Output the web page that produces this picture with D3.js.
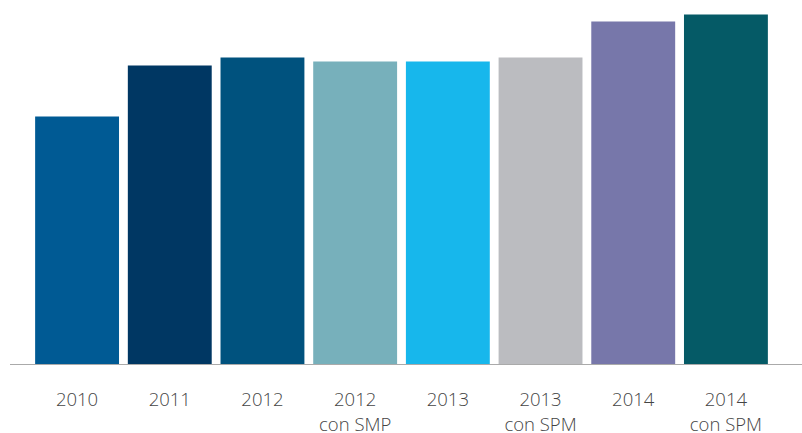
<!DOCTYPE html>
<html>
<head>
<meta charset="utf-8">
<script src="https://cdn.jsdelivr.net/npm/d3@7"></script>
<style>
  body { margin: 0; background: #fff; }
  .label { font-family: "Open Sans", sans-serif; font-weight: 300; font-size: 18.5px; fill: #444; }
</style>
</head>
<body>
<div id="chart"></div>
<script>
const categories = ['2010', '2011', '2012', '2012\ncon SMP', '2013', '2013\ncon SPM', '2014', '2014\ncon SPM'];
const values = [248, 299, 307, 303, 303, 307, 343, 350];
const colors = ['#005a94', '#003763', '#00527e', '#77b0bb', '#17b7ec', '#bbbcc0', '#7777aa', '#055a66'];

const width = 802;
const height = 433;
const baseline = 364.5;

const svg = d3.select('#chart')
  .append('svg')
  .attr('width', width)
  .attr('height', height);

const x = d3.scaleBand()
  .domain(categories)
  .range([30.5, 772.5])
  .paddingInner(0.095)
  .paddingOuter(0.05);

const y = d3.scaleLinear()
  .domain([0, 350])
  .range([baseline, 14.5]);

svg.selectAll('.bar')
  .data(categories)
  .enter().append('rect')
  .attr('class', 'bar')
  .attr('x', d => x(d))
  .attr('width', x.bandwidth())
  .attr('y', (d, i) => y(values[i]))
  .attr('height', (d, i) => baseline - y(values[i]))
  .attr('fill', (d, i) => colors[i]);

// baseline
svg.append('line')
  .attr('x1', 10)
  .attr('x2', width)
  .attr('y1', baseline)
  .attr('y2', baseline)
  .attr('stroke', '#aaa')
  .attr('stroke-width', 1.2);

// labels
const labels = svg.selectAll('.label')
  .data(categories)
  .enter().append('text')
  .attr('class', 'label')
  .attr('text-anchor', 'middle')
  .attr('x', d => x(d) + x.bandwidth() / 2)
  .attr('y', 406);

labels.selectAll('tspan')
  .data(d => d.split('\n'))
  .enter().append('tspan')
  .attr('x', function() { return this.parentNode.getAttribute('x'); })
  .attr('dy', (d, i) => i ? 25 : 0)
  .text(d => d);
</script>
</body>
</html>
